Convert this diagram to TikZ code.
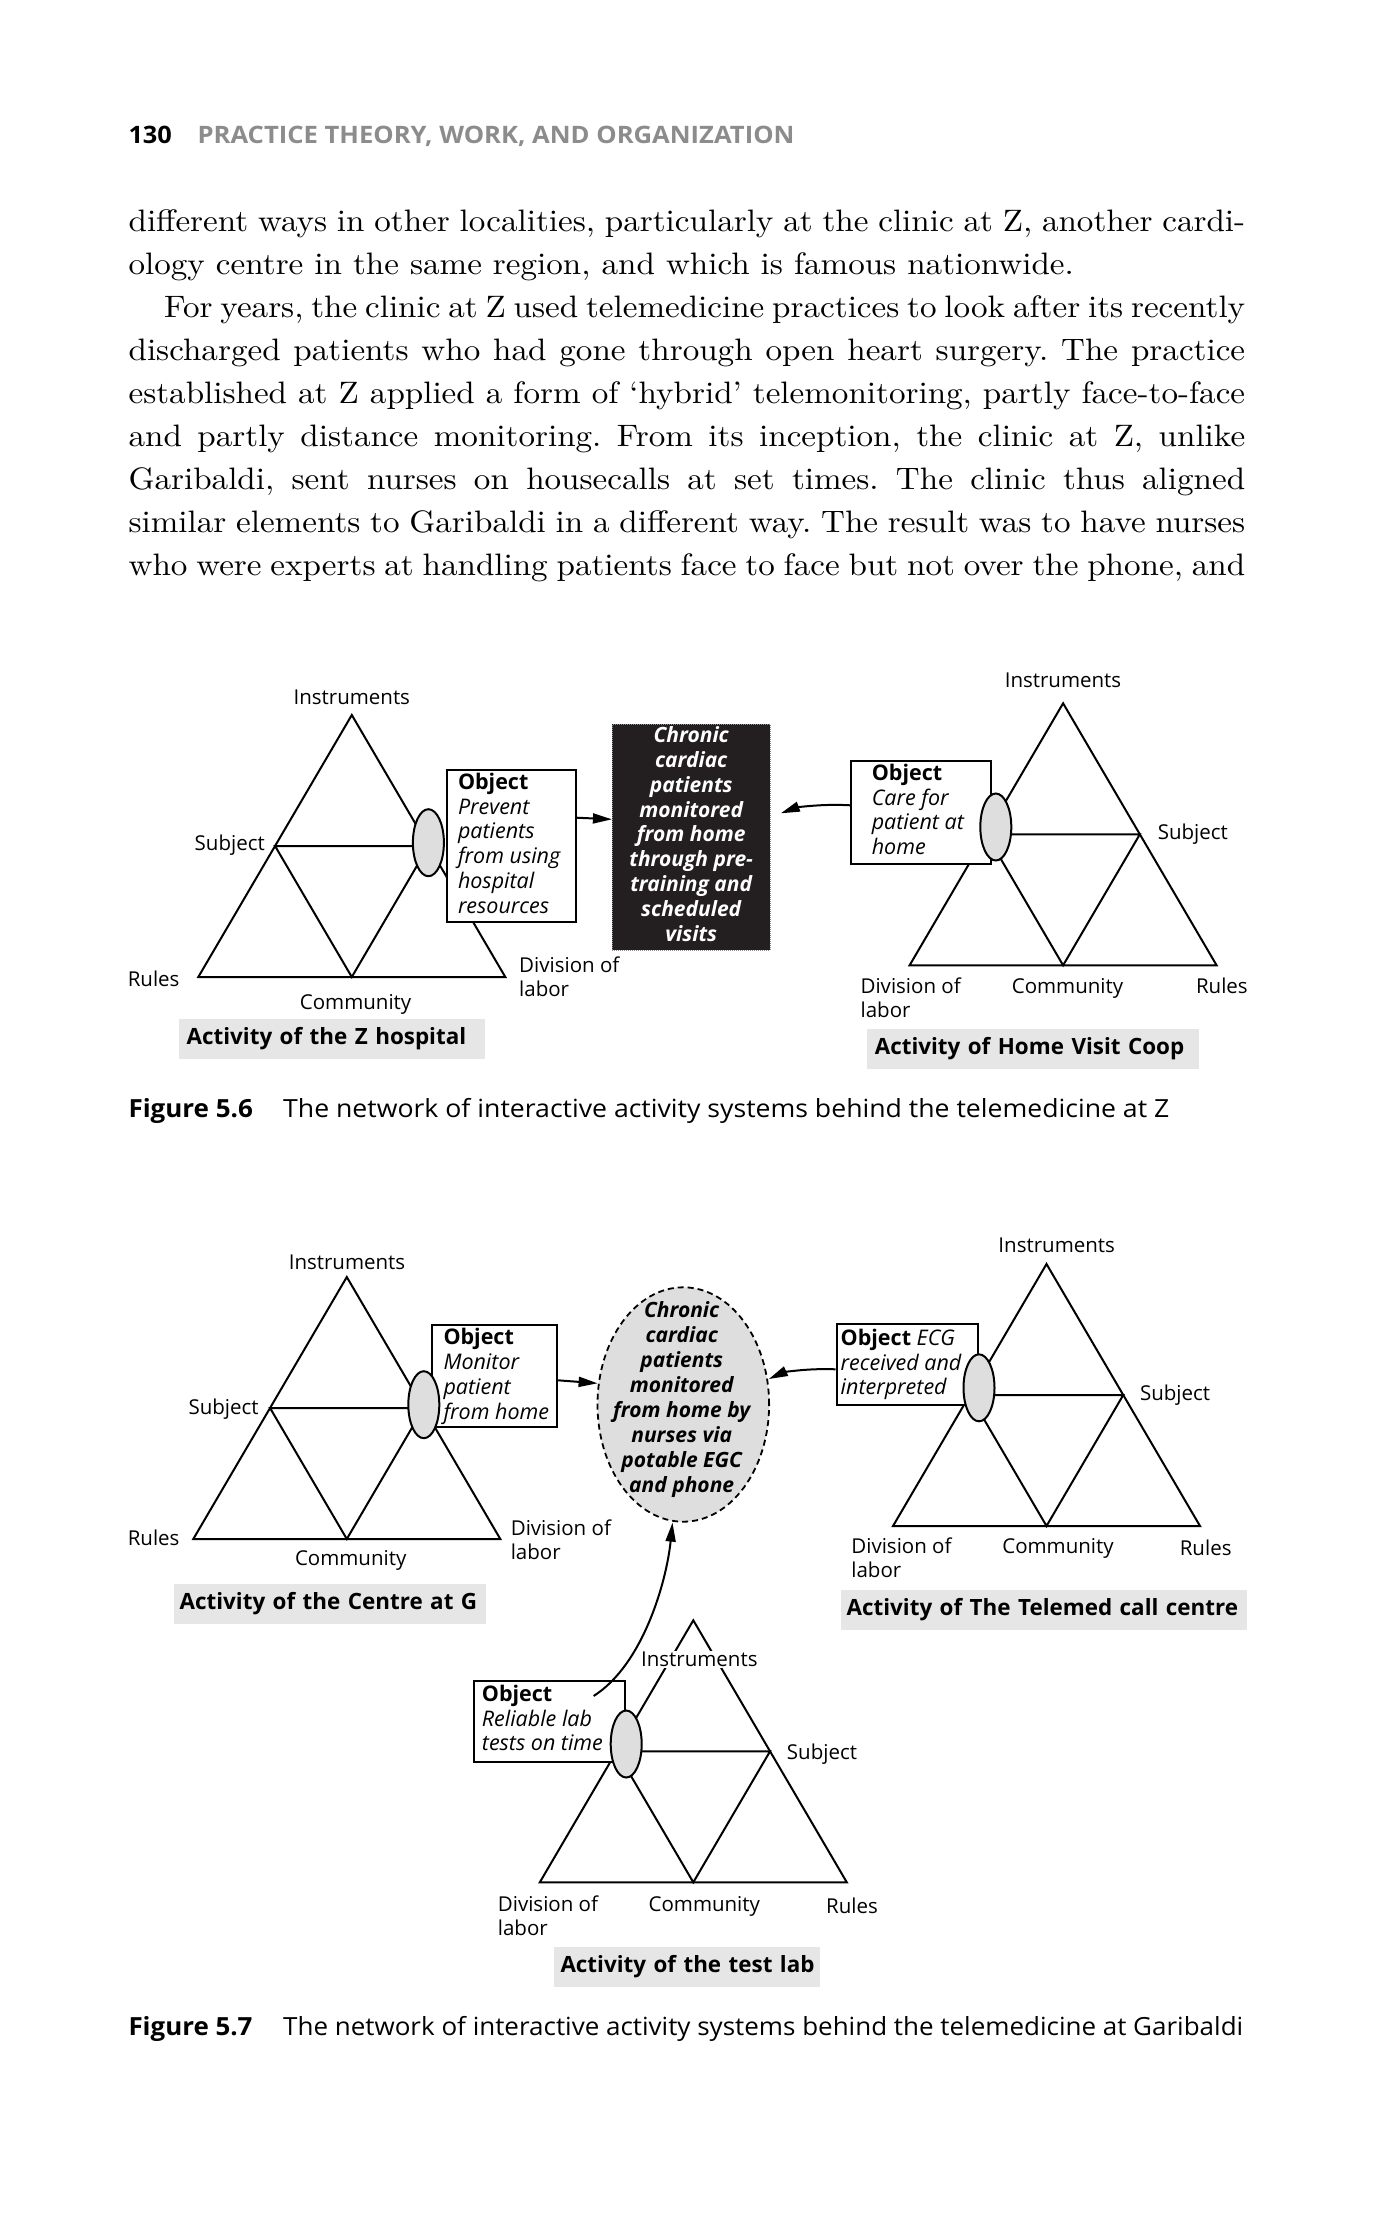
\documentclass[tikz,border=0pt]{standalone}
\usepackage{fontspec}
\usepackage{graphicx}
\usetikzlibrary{shapes.geometric,arrows.meta}
\newfontfamily\osf{Open Sans}
\newfontfamily\bodyf{lmroman10-regular.otf}[FakeStretch=1.068, Ligatures=TeX]
\definecolor{ovalgray}{HTML}{DEDEDE}
\definecolor{labgray}{HTML}{E6E6E6}
\definecolor{boxblack}{HTML}{231F20}
\definecolor{headgray}{HTML}{8C8C8C}
\newcommand\tlft[1]{\begin{tabular}[t]{@{}l@{}}#1\end{tabular}}
\newcommand\tctr[1]{\begin{tabular}[t]{@{}c@{}}#1\end{tabular}}
\newcommand\bodyfont{\bodyf\fontsize{31}{43}\selectfont\frenchspacing}
\newcommand\acttri[3]{%
  \coordinate (#1-a) at (#2,#3);
  \coordinate (#1-bl) at (#2-153.5,#3+262);
  \coordinate (#1-br) at (#2+153.5,#3+262);
  \coordinate (#1-bm) at (#2,#3+262);
  \coordinate (#1-lm) at (#2-76.75,#3+131);
  \coordinate (#1-rm) at (#2+76.75,#3+131);
  \draw[tri] (#1-a) -- (#1-bl) -- (#1-br) -- cycle;
  \draw[tri] (#1-lm) -- (#1-rm) -- (#1-bm) -- cycle;
}
\begin{document}
\begin{tikzpicture}[x=1pt,y=-1pt,
  tri/.style={line width=2pt, line join=miter},
  lab/.style={font=\osf\fontsize{20.5}{24}\selectfont, inner sep=0pt},
  objbox/.style={draw, fill=white, line width=2pt, inner sep=0pt, anchor=north west},
  objtxt/.style={font=\osf\fontsize{21.5}{24.8}\selectfont, inner sep=0pt, anchor=base west},
  oval/.style={ellipse, draw, fill=ovalgray, line width=2pt, minimum width=31pt, minimum height=67pt, inner sep=0pt},
  glab/.style={fill=labgray, font=\osf\bfseries\fontsize{22.4}{26}\selectfont, inner xsep=8pt, inner ysep=0pt, anchor=north west, minimum height=40pt, align=left},
  arr/.style={line width=2pt, -{Triangle[length=19pt,width=10pt]}},
  bodyline/.style={font=\bodyfont, inner sep=0pt, anchor=base west},
  capt/.style={inner sep=0pt, anchor=base west}
]
\fill[white] (0,0) rectangle (1375,2221);
\useasboundingbox (0,0) rectangle (1375,2221);

% ---------- header ----------
\node[capt] (pg) at (128.3,143.3) {\resizebox{43.4pt}{\height}{\osf\bfseries\fontsize{24}{28}\selectfont 130}};
\node[capt, text=headgray] (hd) at (197.3,143.3) {\resizebox{597pt}{\height}{\osf\bfseries\fontsize{24}{28}\selectfont PRACTICE THEORY, WORK, AND ORGANIZATION}};

% ---------- body text ----------
\node[bodyline] (l1) at (128.4,231) {\makebox[1116.6pt][s]{different ways in other localities, particularly at the clinic at Z, another cardi-}};
\node[bodyline] (l2) at (128.4,274.1) {ology centre in the same region, and which is famous nationwide.};
\node[bodyline] (l3) at (164,317.2) {\makebox[1081pt][s]{For years, the clinic at Z used telemedicine practices to look after its recently}};
\node[bodyline] (l4) at (128.4,360.3) {\makebox[1116.6pt][s]{discharged patients who had gone through open heart surgery. The practice}};
\node[bodyline] (l5) at (128.4,403.4) {\makebox[1116.6pt][s]{established at Z applied a form of `hybrid' telemonitoring, partly face-to-face}};
\node[bodyline] (l6) at (128.4,446.5) {\makebox[1116.6pt][s]{and partly distance monitoring. From its inception, the clinic at Z, unlike}};
\node[bodyline] (l7) at (128.4,489.6) {\makebox[1116.6pt][s]{Garibaldi, sent nurses on housecalls at set times. The clinic thus aligned}};
\node[bodyline] (l8) at (128.4,532.7) {\makebox[1116.6pt][s]{similar elements to Garibaldi in a different way. The result was to have nurses}};
\node[bodyline] (l9) at (128.4,575.8) {\makebox[1116.6pt][s]{who were experts at handling patients face to face but not over the phone, and}};

% ---------- triangles ----------
\acttri{t1}{351.8}{715}
\acttri{t2}{1063.1}{703.3}
\acttri{t3}{346.8}{1277}
\acttri{t4}{1046.5}{1264}
\acttri{t5}{693.3}{1620.3}

% ---------- triangle labels ----------
% t1
\node[lab, anchor=base] (t1i) at (351.8,704) {Instruments};
\node[lab, anchor=base east] (t1s) at (265,850) {Subject};
\node[lab, anchor=base west] (t1r) at (127.6,986) {Rules};
\node[lab, anchor=base] (t1c) at (355.6,1009) {Community};
\node[lab, anchor=base west] (t1d) at (519,972) {\tlft{Division of\\labor}};
% t2
\node[lab, anchor=base] (t2i) at (1063,687.5) {Instruments};
\node[lab, anchor=base west] (t2s) at (1157.6,839) {Subject};
\node[lab, anchor=base west] (t2d) at (860.4,993.5) {\tlft{Division of\\labor}};
\node[lab, anchor=base] (t2c) at (1067.5,993.5) {Community};
\node[lab, anchor=base west] (t2r) at (1195.8,993.5) {Rules};
% t3
\node[lab, anchor=base] (t3i) at (347,1269.8) {Instruments};
\node[lab, anchor=base east] (t3s) at (258.8,1414.8) {Subject};
\node[lab, anchor=base west] (t3r) at (127.6,1545.8) {Rules};
\node[lab, anchor=base] (t3c) at (350.7,1565.8) {Community};
\node[lab, anchor=base west] (t3d) at (510.6,1535.8) {\tlft{Division of\\labor}};
% t4
\node[lab, anchor=base] (t4i) at (1056.7,1252.5) {Instruments};
\node[lab, anchor=base west] (t4s) at (1139.8,1400.8) {Subject};
\node[lab, anchor=base west] (t4d) at (851.2,1553.5) {\tlft{Division of\\labor}};
\node[lab, anchor=base] (t4c) at (1058,1553.5) {Community};
\node[lab, anchor=base west] (t4r) at (1179.6,1555.8) {Rules};
% t5
\node[lab, anchor=base, fill=white, inner sep=1pt] (t5i) at (699.3,1666.8) {Instruments};
\node[lab, anchor=base west] (t5s) at (786.7,1759.8) {Subject};
\node[lab, anchor=base west] (t5d) at (497.7,1911.5) {\tlft{Division of\\labor}};
\node[lab, anchor=base] (t5c) at (704.3,1911.5) {Community};
\node[lab, anchor=base west] (t5r) at (826,1913.5) {Rules};

% ---------- object boxes ----------
\node[objbox, minimum width=128.3pt, minimum height=151.4pt] (o1) at (446.3,769.3) {};
\node[objbox, minimum width=139.3pt, minimum height=103.3pt] (o2) at (850.4,760) {};
\node[objbox, minimum width=125.2pt, minimum height=102pt] (o3) at (431,1324) {};
\node[objbox, minimum width=141.8pt, minimum height=81pt] (o4) at (835.5,1323.3) {};
\node[objbox, minimum width=150.7pt, minimum height=80.7pt] (o5) at (473.3,1680) {};

\node[objtxt] (o1t) at (457.8,789.3) {\tlft{\textbf{Object}\\\textit{Prevent}\\\textit{patients}\\\textit{from using}\\\textit{hospital}\\\textit{resources}}};
\node[objtxt] (o2t) at (871.6,780.3) {\tlft{\textbf{Object}\\\textit{Care for}\\\textit{patient at}\\\textit{home}}};
\node[objtxt] (o3t) at (443.3,1344.7) {\tlft{\textbf{Object}\\\textit{Monitor}\\\textit{patient}\\\textit{from home}}};
\node[objtxt] (o4t) at (840.5,1345.3) {\tlft{\textbf{Object} \textit{ECG}\\\textit{received and}\\\textit{interpreted}}};
\node[objtxt] (o5t) at (481.7,1701.3) {\tlft{\textbf{Object}\\\textit{Reliable lab}\\\textit{tests on time}}};

% ---------- ovals ----------
\node[oval] (e1) at (428.4,842.7) {};
\node[oval] (e2) at (995.8,827) {};
\node[oval] (e3) at (423.8,1404.7) {};
\node[oval] (e4) at (979,1387.8) {};
\node[oval] (e5) at (626.2,1744) {};

% ---------- central outcome nodes ----------
\node[fill=boxblack, draw=black!45, densely dotted, line width=1pt, minimum width=157.6pt, minimum height=226pt, inner sep=0pt,
      text=white, font=\osf\bfseries\itshape\fontsize{21}{24.9}\selectfont] (b1) at (691.2,837)
  {\tctr{Chronic\\cardiac\\patients\\monitored\\from home\\through pre-\\training and\\scheduled\\visits}};

\node[ellipse, draw, fill=ovalgray, dash pattern=on 6pt off 4pt, line width=1.8pt, minimum width=171.6pt, minimum height=234.4pt, inner sep=0pt] (d) at (683.3,1404.5) {};
\node[inner sep=0pt, font=\osf\bfseries\itshape\fontsize{21}{25}\selectfont] (dt) at (681.7,1399.5)
  {\tctr{Chronic\\cardiac\\patients\\monitored\\from home by\\nurses via\\potable EGC\\and phone}};

% ---------- connectors ----------
\draw[arr] ([yshift=28.3pt]o1.east) -- ([yshift=17.7pt]b1.west);
\draw[arr] ([yshift=7.35pt]o2.west) .. controls (820,803.5) and (795,808) .. ([xshift=10.3pt,yshift=23.7pt]b1.east);
\draw[arr] ([yshift=-4.3pt]o3.east) -- ([xshift=1pt,yshift=21.2pt]d.west);
\draw[arr] ([yshift=-4.5pt]o4.west) .. controls (805,1368) and (782,1373) .. ([xshift=-1.2pt,yshift=25.5pt]d.east);
\draw[arr] ([xshift=44pt,yshift=25.4pt]o5.center) .. controls (642.7,1665) and (666.5,1582) .. ([xshift=-10.8pt]d.south);

% ---------- activity titles ----------
\node[glab, text width=290pt] (g1) at (178.5,1018.3) {\mbox{Activity of the Z hospital}};
\node[glab, text width=315.7pt] (g2) at (866.6,1028.3) {\mbox{Activity of Home Visit Coop}};
\node[glab, text width=300pt, inner xsep=6pt] (g3) at (173.5,1583.3) {\mbox{Activity of the Centre at G}};
\node[glab, text width=394.3pt, inner xsep=6pt] (g4) at (840.5,1589.3) {\mbox{Activity of The Telemed call centre}};
\node[glab, text width=252.7pt, inner xsep=7pt] (g5) at (553.3,1946.7) {\mbox{Activity of the test lab}};

% ---------- captions ----------
\node[capt] (c1a) at (128.3,1117.3) {\resizebox{124.4pt}{\height}{\osf\bfseries\fontsize{25}{28}\selectfont Figure 5.6}};
\node[capt] (c1b) at (283,1117.3) {\resizebox{886pt}{\height}{\osf\fontsize{25}{28}\selectfont The network of interactive activity systems behind the telemedicine at Z}};
\node[capt] (c2a) at (128.3,2035) {\resizebox{124pt}{\height}{\osf\bfseries\fontsize{25}{28}\selectfont Figure 5.7}};
\node[capt] (c2b) at (283,2035) {\resizebox{960pt}{\height}{\osf\fontsize{25}{28}\selectfont The network of interactive activity systems behind the telemedicine at Garibaldi}};
\end{tikzpicture}
\end{document}
